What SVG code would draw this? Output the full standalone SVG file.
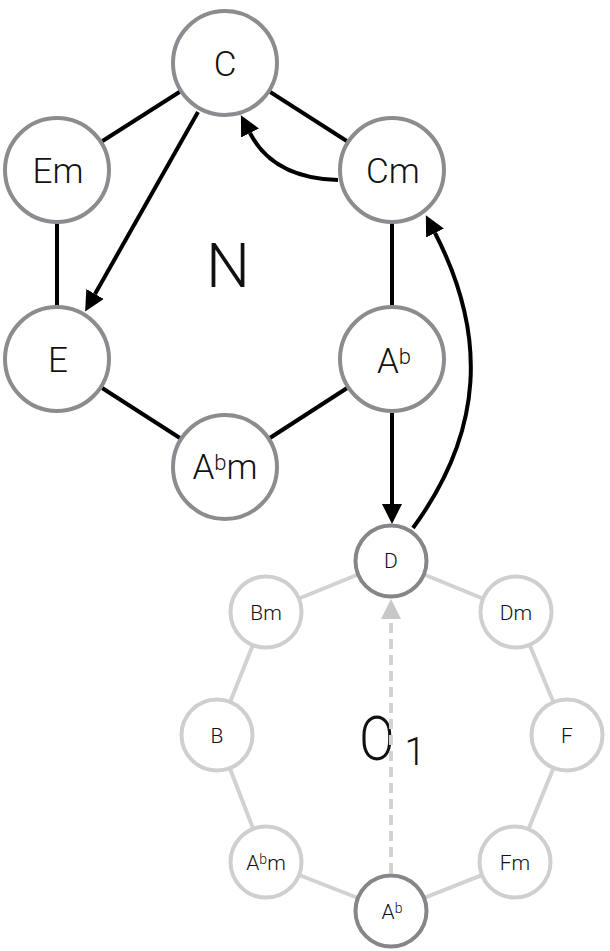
<svg xmlns="http://www.w3.org/2000/svg" width="610" height="951" viewBox="0 0 610 951">
<style>
text{font-family:Roboto,"Liberation Sans",sans-serif;font-weight:300;fill:#111;text-anchor:middle}
.big{stroke:#8c8c90;stroke-width:4;fill:#fff}
.small{stroke:#cfcfcf;stroke-width:4;fill:#fff}
.smalld{stroke:#85858a;stroke-width:4;fill:#fff}
.e{stroke:#000;stroke-width:4;fill:none}
.el{stroke:#d2d2d2;stroke-width:4;fill:none}
.lb{font-size:35px}
.ls{font-size:21px}
</style>
<defs>
<marker id="ah" markerUnits="userSpaceOnUse" markerWidth="20" markerHeight="20" refX="0" refY="9" orient="auto" viewBox="0 0 18 18">
<path d="M0,0 L18,9 L0,18 z" fill="#000"/>
</marker>
<marker id="ahg" markerUnits="userSpaceOnUse" markerWidth="20" markerHeight="20" refX="0" refY="9" orient="auto" viewBox="0 0 18 18">
<path d="M0,0 L18,9 L0,18 z" fill="#c8c8c8"/>
</marker>
</defs>
<g id="labels">
<text x="228" y="287" font-size="62">N</text>
<text x="377" y="760" font-size="62" transform="translate(377 0) scale(0.84 1) translate(-377 0)">O</text>
<text x="415" y="765" font-size="38">1</text>
</g>
<g id="connectors">
<line class="e" x1="225" y1="63" x2="57" y2="170"/>
<line class="e" x1="225" y1="63" x2="392" y2="170"/>
<line class="e" x1="57" y1="170" x2="57" y2="359"/>
<line class="e" x1="57" y1="359" x2="225" y2="467"/>
<line class="e" x1="225" y1="467" x2="392" y2="359"/>
<line class="e" x1="392" y1="359" x2="392" y2="170"/>
<line class="el" x1="391" y1="561" x2="266" y2="612"/>
<line class="el" x1="391" y1="561" x2="516" y2="612"/>
<line class="el" x1="266" y1="612" x2="217" y2="735"/>
<line class="el" x1="516" y1="612" x2="567" y2="735"/>
<line class="el" x1="217" y1="735" x2="266" y2="862"/>
<line class="el" x1="567" y1="735" x2="515" y2="862"/>
<line class="el" x1="266" y1="862" x2="391" y2="911"/>
<line class="el" x1="515" y1="862" x2="391" y2="911"/>
<path class="e" d="M198,112 L95,294" marker-end="url(#ah)"/>
<path class="e" d="M338,180 Q273,178 250,133" marker-end="url(#ah)"/>
<path class="e" d="M392,413 L392,504" marker-end="url(#ah)"/>
<path class="e" d="M413,528 C484,431 487.6,335 435,233" marker-end="url(#ah)"/>
<path class="el" d="M391,873 L391,619" stroke="#c8c8c8" stroke-dasharray="10 6" marker-end="url(#ahg)"/>
</g>
<g id="node-C"><circle class="big" cx="225" cy="63" r="52"/><text class="lb" x="225" y="76">C</text></g>
<g id="node-Em"><circle class="big" cx="57" cy="170" r="52"/><text class="lb" x="58" y="183">Em</text></g>
<g id="node-Cm"><circle class="big" cx="392" cy="170" r="52"/><text class="lb" x="393" y="183">Cm</text></g>
<g id="node-E"><circle class="big" cx="57" cy="359" r="52"/><text class="lb" x="58" y="372">E</text></g>
<g id="node-Ab"><circle class="big" cx="392" cy="359" r="52"/><text class="lb" x="394" y="373">A<tspan font-size="22" dy="-9">b</tspan></text></g>
<g id="node-Abm"><circle class="big" cx="225" cy="467" r="52"/><text class="lb" x="225" y="479">A<tspan font-size="22" dy="-9">b</tspan><tspan dy="9">m</tspan></text></g>
<g id="node-D"><circle class="smalld" cx="391" cy="561" r="35.5"/><text class="ls" x="391" y="568" font-size="22">D</text></g>
<g id="node-Bm"><circle class="small" cx="266" cy="612" r="35.5"/><text class="ls" x="266" y="620">Bm</text></g>
<g id="node-Dm"><circle class="small" cx="516" cy="612" r="35.5"/><text class="ls" x="516" y="620">Dm</text></g>
<g id="node-B"><circle class="small" cx="217" cy="735" r="35.5"/><text class="ls" x="217" y="743">B</text></g>
<g id="node-F"><circle class="small" cx="567" cy="735" r="35.5"/><text class="ls" x="567" y="743">F</text></g>
<g id="node-Abm2"><circle class="small" cx="266" cy="862" r="35.5"/><text class="ls" x="266" y="870">A<tspan font-size="14" dy="-6">b</tspan><tspan dy="6">m</tspan></text></g>
<g id="node-Fm"><circle class="small" cx="515" cy="862" r="35.5"/><text class="ls" x="515" y="870">Fm</text></g>
<g id="node-Ab2"><circle class="smalld" cx="391" cy="911" r="35.5"/><text class="ls" x="392" y="919">A<tspan font-size="14" dy="-6">b</tspan></text></g>
</svg>
